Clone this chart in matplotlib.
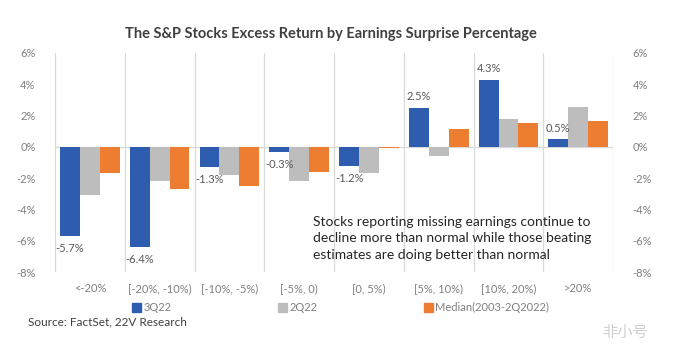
import matplotlib
matplotlib.use("Agg")
import matplotlib.pyplot as plt
import numpy as np
from matplotlib.patches import Patch

plt.rcParams['font.family'] = ['Lato', 'DejaVu Sans']

categories = ['<-20%', '[-20%, -10%)', '[-10%, -5%)', '[-5%, 0)',
              '[0, 5%)', '[5%, 10%)', '[10%, 20%)', '>20%']
q3_22 = [-5.7, -6.4, -1.3, -0.3, -1.2, 2.5, 4.3, 0.5]
q2_22 = [-3.1, -2.2, -1.8, -2.2, -1.7, -0.6, 1.8, 2.55]
median = [-1.7, -2.7, -2.5, -1.6, -0.1, 1.15, 1.5, 1.65]
series_names = ['3Q22', '2Q22', 'Median(2003-2Q2022)']
yticks = [-8, -6, -4, -2, 0, 2, 4, 6]

blue = '#2E5DAF'
grey = '#BDBDBD'
orange = '#ED7D31'
tick_col = '#7F7F7F'

fig = plt.figure(figsize=(6.79, 3.58), dpi=100)
ax = fig.add_axes([0.081, 0.240, 0.822, 0.612])

x = np.arange(len(categories))
w = 0.285
b1 = ax.bar(x - w, q3_22, w, color=blue)
ax.bar(x, q2_22, w, color=grey)
ax.bar(x + w, median, w, color=orange)

for rect, v in zip(b1, q3_22):
    cx = rect.get_x() + rect.get_width() / 2
    off = 4 if v >= 0 else -5
    ax.annotate(f'{v:.1f}%', (cx, v), xytext=(0, off), textcoords='offset points',
                ha='center', va='bottom' if v >= 0 else 'top',
                fontsize=8, color='#595959')

ax.set_xlim(-0.5, len(categories) - 0.5)
ax.set_ylim(-8, 6)
ax.set_yticks(yticks)
ax.set_yticklabels([f'{t}%' for t in yticks])
ax.set_xticks(x)
ax.set_xticklabels(categories)
for xb in np.arange(len(categories) + 1) - 0.5:
    ax.axvline(xb, color='#D9D9D9', lw=0.9, zorder=0)
ax.axhline(0, color='#D9D9D9', lw=0.9, zorder=0)
for s in ax.spines.values():
    s.set_visible(False)
ax.tick_params(axis='both', length=0, colors=tick_col, labelsize=8)
ax.tick_params(axis='x', pad=8)
ax.tick_params(axis='y', pad=14)

ax2 = ax.twinx()
ax2.set_ylim(-8, 6)
ax2.set_yticks(yticks)
ax2.set_yticklabels([f'{t}%' for t in yticks])
for s in ax2.spines.values():
    s.set_visible(False)
ax2.tick_params(axis='y', length=0, colors=tick_col, labelsize=8, pad=14)

fig.text(0.488, 0.905, 'The S&P Stocks Excess Return by Earnings Surprise Percentage',
         ha='center', va='center', fontsize=10.5, fontweight='bold', color='#404040')

fig.text(0.461, 0.335, 'Stocks reporting missing earnings continue to\n'
         'decline more than normal while those beating\n'
         'estimates are doing better than normal',
         fontsize=10, color='#262626', linespacing=1.45, va='center', ha='left')

handles = [Patch(color=c) for c in (blue, grey, orange)]
fig.legend(handles, series_names, loc='center left', bbox_to_anchor=(0.18, 0.14),
           ncol=3, frameon=False, fontsize=8, handlelength=0.8, handleheight=0.8,
           handletextpad=0.2, columnspacing=9.6, labelcolor=tick_col)

fig.text(0.041, 0.1, 'Source: FactSet, 22V Research', fontsize=8.5,
         color='#404040', va='center')
fig.text(0.92, 0.07, '非小号', fontsize=11, color='#D0D0D0', ha='center', va='center',
         family=['Noto Sans CJK SC', 'DejaVu Sans'])

fig.savefig('out.png', dpi=100)
